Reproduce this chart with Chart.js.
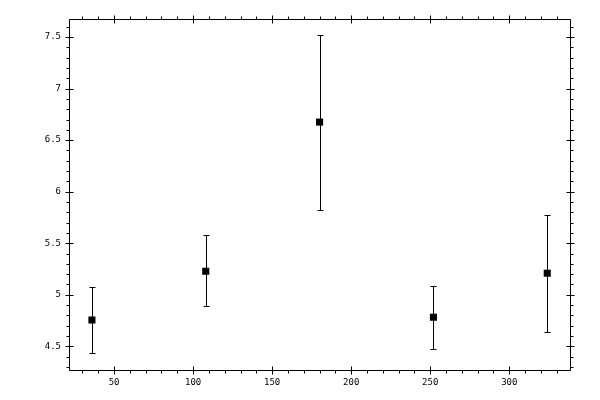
<!DOCTYPE html>
<html>
<head>
<meta charset="utf-8">
<script src="https://cdn.jsdelivr.net/npm/chart.js@4"></script>
<style>
    html, body { margin: 0; padding: 0; background: #fff; }
    #wrap { width: 600px; height: 400px; }
</style>
</head>
<body>
<div id="wrap"><canvas id="errChart" width="600" height="400"></canvas></div>
<script>
// Data
const xValues = [36, 108, 180, 252, 324];
const yValues = [4.755, 5.228, 6.675, 4.782, 5.209];
const yLow = [4.432, 4.888, 5.82, 4.471, 4.636];
const yHigh = [5.073, 5.578, 7.519, 5.083, 5.772];

const xTicks = [50, 100, 150, 200, 250, 300];
const yTicks = [4.5, 5, 5.5, 6, 6.5, 7, 7.5];
const xRange = [21.5, 338.4];
const yRange = [4.27, 7.675];
const xMinorStep = 10;
const yMinorStep = 0.1;

const points = xValues.map((x, i) => ({ x: x, y: yValues[i] }));

// Box frame, in/out ticks on all sides, and the error bars
const framePlugin = {
    id: 'frame',
    afterDatasetsDraw(chart) {
        const ctx = chart.ctx;
        const a = chart.chartArea;
        const xs = chart.scales.x;
        const ys = chart.scales.y;
        const L = Math.round(a.left) + 0.5;
        const R = Math.round(a.right) + 0.5;
        const T = Math.round(a.top) + 0.5;
        const B = Math.round(a.bottom) + 0.5;

        ctx.save();
        ctx.strokeStyle = '#000';
        ctx.lineWidth = 1;
        ctx.beginPath();
        ctx.rect(L, T, R - L, B - T);

        // minor ticks (outside only)
        for (let v = Math.ceil(xRange[0] / xMinorStep) * xMinorStep; v <= xRange[1]; v += xMinorStep) {
            const px = Math.round(xs.getPixelForValue(v)) + 0.5;
            ctx.moveTo(px, B); ctx.lineTo(px, B + 3);
            ctx.moveTo(px, T); ctx.lineTo(px, T - 3);
        }
        for (let k = Math.ceil(yRange[0] / yMinorStep); k * yMinorStep <= yRange[1]; k++) {
            const py = Math.round(ys.getPixelForValue(k * yMinorStep)) + 0.5;
            ctx.moveTo(L, py); ctx.lineTo(L - 3, py);
            ctx.moveTo(R, py); ctx.lineTo(R + 3, py);
        }
        // major ticks (crossing the frame)
        xTicks.forEach(v => {
            const px = Math.round(xs.getPixelForValue(v)) + 0.5;
            ctx.moveTo(px, B - 4); ctx.lineTo(px, B + 4);
            ctx.moveTo(px, T - 4); ctx.lineTo(px, T + 4);
        });
        yTicks.forEach(v => {
            const py = Math.round(ys.getPixelForValue(v)) + 0.5;
            ctx.moveTo(L - 4, py); ctx.lineTo(L + 4, py);
            ctx.moveTo(R - 4, py); ctx.lineTo(R + 4, py);
        });
        ctx.stroke();

        // error bars
        ctx.beginPath();
        xValues.forEach((x, i) => {
            const px = Math.round(xs.getPixelForValue(x)) + 0.5;
            const top = Math.round(ys.getPixelForValue(yHigh[i])) + 0.5;
            const bot = Math.round(ys.getPixelForValue(yLow[i])) + 0.5;
            ctx.moveTo(px, top); ctx.lineTo(px, bot);
            ctx.moveTo(px - 3, top); ctx.lineTo(px + 3, top);
            ctx.moveTo(px - 3, bot); ctx.lineTo(px + 3, bot);
        });
        ctx.stroke();
        ctx.restore();
    }
};

const tickFont = { family: '"DejaVu Sans Mono", monospace', size: 9 };

new Chart(document.getElementById('errChart'), {
    type: 'scatter',
    data: {
        datasets: [{
            data: points,
            pointStyle: 'rect',
            pointRadius: 5,
            pointHoverRadius: 5,
            pointBackgroundColor: '#000',
            pointBorderWidth: 0
        }]
    },
    options: {
        responsive: false,
        animation: false,
        devicePixelRatio: 1,
        layout: { padding: { left: 0, right: 30, top: 19, bottom: 0 } },
        plugins: {
            legend: { display: false },
            tooltip: { enabled: false }
        },
        scales: {
            x: {
                type: 'linear',
                min: xRange[0],
                max: xRange[1],
                grid: { display: false, drawTicks: false },
                border: { display: false },
                afterBuildTicks: s => { s.ticks = xTicks.map(v => ({ value: v })); },
                afterFit: s => { s.height = 30; },
                ticks: {
                    color: '#000',
                    font: tickFont,
                    padding: 7,
                    maxRotation: 0,
                    autoSkip: false,
                    callback: v => String(v)
                }
            },
            y: {
                type: 'linear',
                min: yRange[0],
                max: yRange[1],
                grid: { display: false, drawTicks: false },
                border: { display: false },
                afterBuildTicks: s => { s.ticks = yTicks.map(v => ({ value: v })); },
                afterFit: s => { s.width = 69; },
                ticks: {
                    color: '#000',
                    font: tickFont,
                    padding: 8,
                    autoSkip: false,
                    callback: v => String(v)
                }
            }
        }
    },
    plugins: [framePlugin]
});
</script>
</body>
</html>
